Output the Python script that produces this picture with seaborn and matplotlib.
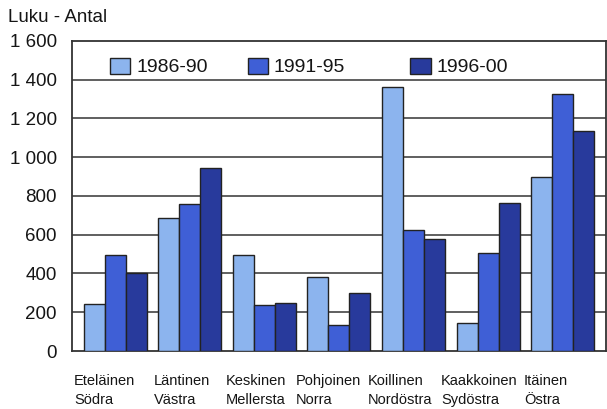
import pandas as pd
import matplotlib
matplotlib.use("Agg")
import matplotlib.pyplot as plt
import matplotlib.transforms as mtransforms
from matplotlib.legend import Legend
import seaborn as sns

regions = ["Eteläinen\nSödra", "Läntinen\nVästra", "Keskinen\nMellersta", "Pohjoinen\nNorra",
           "Koillinen\nNordöstra", "Kaakkoinen\nSydöstra", "Itäinen\nÖstra"]
periods = ["1986-90", "1991-95", "1996-00"]
v_1986_90 = [245, 685, 495, 380, 1362, 145, 900]
v_1991_95 = [497, 757, 237, 135, 625, 505, 1325]
v_1996_00 = [400, 945, 246, 297, 580, 765, 1135]
yticks = [0, 200, 400, 600, 800, 1000, 1200, 1400, 1600]
ytick_labels = ["0", "200", "400", "600", "800", "1 000", "1 200", "1 400", "1 600"]

df = pd.DataFrame({
    "region": regions * 3,
    "period": [periods[0]] * 7 + [periods[1]] * 7 + [periods[2]] * 7,
    "value": v_1986_90 + v_1991_95 + v_1996_00,
})

sns.set_style("white")
plt.rcParams['font.family'] = ['Liberation Sans', 'DejaVu Sans']

fig = plt.figure(figsize=(6.07, 4.09), dpi=100)
ax = fig.add_axes([0.1186, 0.1418, 0.8795, 0.758])

colors = ["#8cb4ee", "#3f5fd6", "#283a9c"]
sns.barplot(data=df, x="region", y="value", hue="period", palette=colors,
            width=0.845, gap=0, edgecolor="#222222", linewidth=1.0,
            saturation=1, ax=ax, zorder=3)

ax.set_ylim(0, 1600)
ax.set_xlim(-0.58, 6.58)
ax.set_yticks(yticks)
ax.set_yticklabels(ytick_labels, fontsize=13.5, color="#151515")
ax.tick_params(axis="y", length=0, pad=11)
ax.set_xticks([])
ax.set_xlabel("")
ax.set_ylabel("")
for y in yticks[1:-1]:
    ax.axhline(y, color="#444444", linewidth=1.2, zorder=1)
for s in ax.spines.values():
    s.set_visible(True)
    s.set_color("#333333")
    s.set_linewidth(1.3)

# category labels, left aligned a bit left of each group
label_shift = [-0.55, -0.48, -0.515, -0.575, -0.61, -0.63, -0.52]
trans = mtransforms.blended_transform_factory(ax.transData, ax.transAxes)
for i, r in enumerate(regions):
    ax.text(i + label_shift[i], -0.075, r, transform=trans, ha="left", va="top",
            fontsize=10.5, color="#151515", linespacing=1.4)

# legend entries placed one by one
handles, labels = ax.get_legend_handles_labels()
ax.get_legend().remove()
leg_x = [0.071, 0.329, 0.634]
for h, l, x in zip(handles, labels, leg_x):
    leg = Legend(ax, [h], [l], loc="center left", bbox_to_anchor=(x, 0.916),
                 frameon=False, fontsize=14, handlelength=1.05, handleheight=0.9,
                 handletextpad=0.3, borderpad=0, borderaxespad=0)
    for p in leg.get_patches():
        p.set_edgecolor("#222222")
    for t in leg.get_texts():
        t.set_color("#151515")
    ax.add_artist(leg)

fig.text(0.013, 0.978, "Luku - Antal", ha="left", va="top", fontsize=13.5, color="#151515")

fig.savefig("out.png", dpi=100)
